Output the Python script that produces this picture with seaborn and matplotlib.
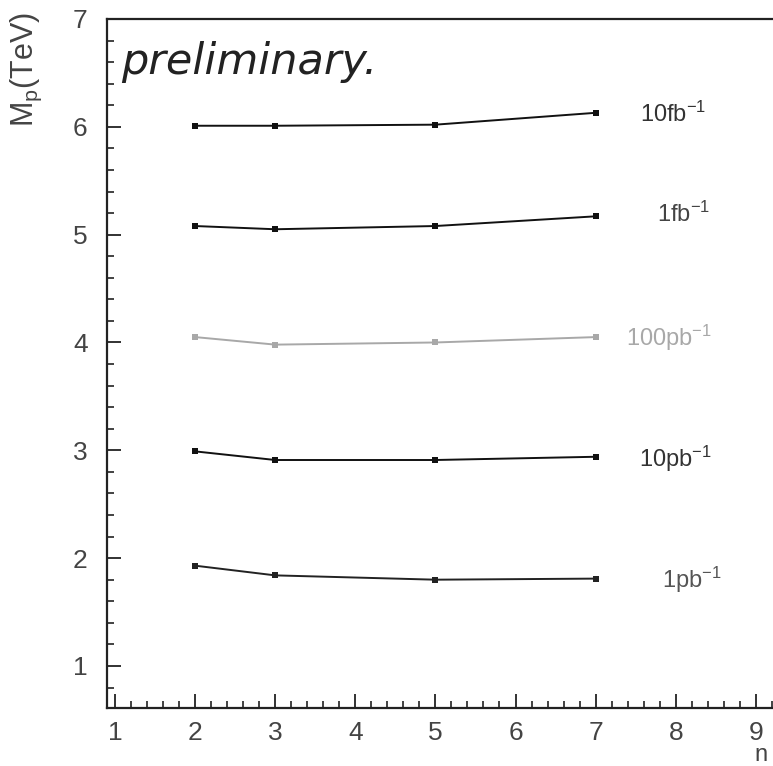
import matplotlib
matplotlib.use("Agg")
import matplotlib.pyplot as plt
import seaborn as sns
import pandas as pd
from matplotlib.ticker import MultipleLocator

# data
n_values = [2, 3, 5, 7]
series_names = ["10fb", "1fb", "100pb", "10pb", "1pb"]
m_10fb = [6.01, 6.01, 6.02, 6.13]
m_1fb = [5.08, 5.05, 5.08, 5.17]
m_100pb = [4.05, 3.98, 4.00, 4.05]
m_10pb = [2.99, 2.91, 2.91, 2.94]
m_1pb = [1.93, 1.84, 1.80, 1.81]
label_texts = [r"10fb$^{-1}$", r"1fb$^{-1}$", r"100pb$^{-1}$", r"10pb$^{-1}$", r"1pb$^{-1}$"]
label_x = [7.97, 8.10, 7.92, 8.0, 8.2]
label_y = [6.12, 5.19, 4.04, 2.92, 1.80]
x_ticks = [1, 2, 3, 4, 5, 6, 7, 8, 9]
y_ticks = [1, 2, 3, 4, 5, 6, 7]

all_vals = [m_10fb, m_1fb, m_100pb, m_10pb, m_1pb]
rows = []
for name, vals in zip(series_names, all_vals):
    for n, v in zip(n_values, vals):
        rows.append({"n": n, "M": v, "series": name})
df = pd.DataFrame(rows)

sns.set_theme(style="white")
plt.rcParams["font.family"] = ["Liberation Sans", "DejaVu Sans"]
plt.rcParams["mathtext.default"] = "regular"

colors = {"10fb": "#111111", "1fb": "#111111", "100pb": "#a8a8a8",
          "10pb": "#111111", "1pb": "#222222"}
text_colors = ["#333333", "#444444", "#a8a8a8", "#333333", "#555555"]

fig = plt.figure(figsize=(7.73, 7.66), dpi=100)
ax = fig.add_axes([107 / 773, 1 - 708 / 766, 1 - 107 / 773, (708 - 19) / 766])

sns.lineplot(data=df, x="n", y="M", hue="series", hue_order=series_names,
             palette=colors, marker="s", markersize=5, markeredgewidth=0,
             linewidth=1.4, legend=False, ax=ax, sort=True)

ax.set_xlim(0.9, 0.9 + 666 / 80.1)
ax.set_ylim(0.61, 7.0)
ax.set_xticks(x_ticks)
ax.set_yticks(y_ticks)
ax.xaxis.set_minor_locator(MultipleLocator(0.2))
ax.yaxis.set_minor_locator(MultipleLocator(0.2))
ax.tick_params(which="major", direction="in", length=10, width=1.3,
               color="#222222", labelsize=19, labelcolor="#444444")
ax.tick_params(which="minor", direction="in", length=5, width=1.2, color="#222222")
ax.tick_params(axis="x", which="major", pad=9)
ax.tick_params(axis="y", which="major", pad=14)
ax.tick_params(which="both", bottom=True, left=True)
for side in ["left", "bottom", "top"]:
    ax.spines[side].set_color("#222222")
    ax.spines[side].set_linewidth(1.6)
ax.spines["right"].set_visible(False)
ax.set_xlabel("")
ax.set_ylabel("")

for t, x, y, c in zip(label_texts, label_x, label_y, text_colors):
    ax.text(x, y, t, ha="center", va="center", fontsize=17, color=c)

ax.text(1.08, 6.6, "preliminary.", fontsize=31, style="italic",
        family="DejaVu Sans", color="#222222", ha="left", va="center")

fig.text(26 / 773, 1 - 12 / 766, r"M$_p$(TeV)", rotation=90, ha="center",
         va="top", fontsize=22, color="#444444")
fig.text(754 / 773, 1 - 744 / 766, "n", ha="left", va="top", fontsize=17,
         color="#444444")

fig.savefig("out.png", dpi=100)
